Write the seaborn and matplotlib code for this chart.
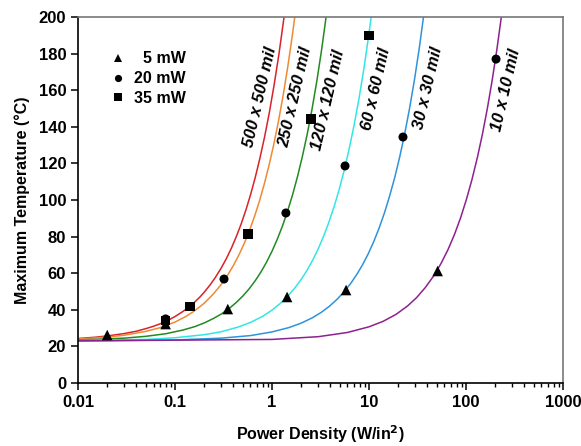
import numpy as np
import pandas as pd
import matplotlib
matplotlib.use("Agg")
import matplotlib.pyplot as plt
import seaborn as sns
from matplotlib.ticker import FixedLocator, FuncFormatter, LogLocator, NullFormatter

# curves (power density W/in^2, max temperature C)
red_x = [0.01, 0.015, 0.02, 0.03, 0.04, 0.05, 0.06, 0.07, 0.08, 0.09, 0.1, 0.12, 0.14, 0.16, 0.18,
         0.2, 0.23, 0.26, 0.3, 0.34, 0.38, 0.43, 0.48, 0.54, 0.6, 0.67, 0.75, 0.84, 0.94, 1.05,
         1.18, 1.32, 1.42]
red_t = [24.3, 25.0, 25.7, 27.0, 28.3, 29.7, 31.0, 32.3, 33.6, 35.0, 36.3, 39.0, 41.6, 44.3, 46.9,
         49.6, 53.6, 57.6, 62.9, 68.2, 73.5, 80.2, 86.8, 94.8, 102.8, 112.1, 122.8, 134.7, 148.0, 162.7,
         179.9, 198.6, 211.9]

orange_x = [0.01, 0.02, 0.03, 0.05, 0.07, 0.1, 0.13, 0.16, 0.2, 0.25, 0.3, 0.35, 0.4, 0.46, 0.52,
            0.59, 0.66, 0.74, 0.83, 0.93, 1.04, 1.16, 1.3, 1.45, 1.62, 1.8]
orange_t = [24.0, 25.1, 26.1, 28.2, 30.2, 33.3, 36.4, 39.5, 43.6, 48.8, 53.9, 59.1, 64.2, 70.4, 76.6,
            83.8, 91.0, 99.2, 108.5, 118.8, 130.1, 142.5, 156.9, 172.4, 189.9, 208.4]

green_x = [0.01, 0.03, 0.05, 0.08, 0.12, 0.16, 0.2, 0.25, 0.3, 0.36, 0.43, 0.5, 0.58, 0.67, 0.77,
           0.88, 1.0, 1.13, 1.28, 1.45, 1.63, 1.83, 2.05, 2.3, 2.58, 2.89, 3.24, 3.63, 3.8]
green_t = [23.5, 24.5, 25.5, 26.9, 28.9, 30.8, 32.8, 35.3, 37.7, 40.6, 44.1, 47.5, 51.4, 55.8, 60.7,
           66.1, 72.0, 78.4, 85.7, 94.1, 102.9, 112.7, 123.5, 135.7, 149.4, 164.6, 181.8, 200.9, 209.2]

cyan_x = [0.01, 0.05, 0.1, 0.2, 0.3, 0.45, 0.6, 0.8, 1.0, 1.2, 1.43, 1.7, 2.0, 2.3, 2.65,
          3.0, 3.4, 3.85, 4.35, 4.9, 5.5, 6.2, 7.0, 7.9, 8.9, 10.0, 11.0]
cyan_t = [23.2, 23.8, 24.7, 26.4, 28.0, 30.6, 33.1, 36.4, 39.8, 43.2, 47.0, 51.6, 56.6, 61.6, 67.5,
          73.4, 80.1, 87.7, 96.1, 105.3, 115.4, 127.2, 140.6, 155.7, 172.5, 191.0, 207.8]

blue_x = [0.01, 0.1, 0.3, 0.6, 1.0, 1.5, 2.0, 2.6, 3.2, 3.9, 4.7, 5.5, 6.5, 7.5, 8.6,
          9.8, 11.2, 12.7, 14.4, 16.3, 18.4, 20.7, 23.3, 26.2, 29.4, 33.0, 37.0, 38.5]
blue_t = [23.0, 23.5, 24.5, 25.9, 27.9, 30.3, 32.7, 35.6, 38.5, 41.9, 45.8, 49.7, 54.5, 59.4, 64.7,
          70.5, 77.3, 84.6, 92.8, 102.1, 112.2, 123.4, 136.0, 150.1, 165.6, 183.1, 202.5, 209.7]

purple_x = [0.01, 1, 3, 6, 10, 14, 19, 25, 31, 38, 46, 55, 65, 76, 88,
            101, 115, 131, 148, 166, 186, 208, 232, 245]
purple_t = [23.0, 23.8, 25.3, 27.6, 30.7, 33.7, 37.5, 42.1, 46.7, 52.1, 58.2, 65.1, 72.7, 81.1, 90.3,
            100.3, 111.0, 123.2, 136.2, 150.0, 165.3, 182.1, 200.5, 210.4]

# measured points
tri_x = [0.02, 0.08, 0.35, 1.43, 5.8, 51]
tri_t = [26.2, 32.2, 40.4, 47, 50.8, 61.2]
circ_x = [0.08, 0.32, 1.39, 5.66, 22.4, 204]
circ_t = [35, 56.8, 92.9, 118.6, 134.4, 177]
sq_x = [0.08, 0.143, 0.566, 2.52, 10]
sq_t = [34, 42, 81.4, 144.3, 190]

sizes = ["500 x 500 mil", "250 x 250 mil", "120 x 120 mil", "60 x 60 mil", "30 x 30 mil", "10 x 10 mil"]
colors = ["#d8232a", "#f08a32", "#238a23", "#33e6e6", "#2f93dc", "#8e2190"]
curves = [(red_x, red_t), (orange_x, orange_t), (green_x, green_t),
          (cyan_x, cyan_t), (blue_x, blue_t), (purple_x, purple_t)]

rows = []
for name, (xs, ts) in zip(sizes, curves):
    for x, t in zip(xs, ts):
        rows.append({"size": name, "P": x, "T": t})
lines = pd.DataFrame(rows)

pts = pd.concat([
    pd.DataFrame({"P": tri_x, "T": tri_t, "power": "5 mW"}),
    pd.DataFrame({"P": circ_x, "T": circ_t, "power": "20 mW"}),
    pd.DataFrame({"P": sq_x, "T": sq_t, "power": "35 mW"}),
])

sns.set_theme(style="white")
plt.rcParams['font.family'] = ['Liberation Sans', 'DejaVu Sans']
for k in ["text.color", "axes.labelcolor", "xtick.color", "ytick.color"]:
    plt.rcParams[k] = "black"

fig = plt.figure(figsize=(5.81, 4.46), dpi=100)
ax = fig.add_axes([0.1343, 0.1413, 0.8347, 0.8206])

sns.lineplot(data=lines, x="P", y="T", hue="size", palette=colors, sort=False,
             estimator=None, lw=1.1, legend=False, ax=ax)
sns.scatterplot(data=pts, x="P", y="T", style="power", size="power",
                markers={"5 mW": "^", "20 mW": "o", "35 mW": "s"},
                sizes={"5 mW": 58, "20 mW": 42, "35 mW": 44},
                color="black", edgecolor="black", linewidth=0, ax=ax, zorder=5)

ax.set_xscale("log")
ax.set_xlim(0.01, 1000)
ax.set_ylim(0, 200)
ax.xaxis.set_major_locator(FixedLocator([0.01, 0.1, 1, 10, 100, 1000]))
ax.xaxis.set_major_formatter(FuncFormatter(lambda v, p: "%g" % v))
ax.xaxis.set_minor_locator(LogLocator(base=10, subs=np.arange(2, 10)))
ax.xaxis.set_minor_formatter(NullFormatter())
ax.set_yticks(range(0, 201, 20))

ax.tick_params(axis="both", which="major", direction="out", length=5, width=1.1,
               labelsize=12, bottom=True, left=True, color="black")
ax.tick_params(axis="x", which="minor", direction="out", length=3, width=1, bottom=True)
for lab in ax.get_xticklabels() + ax.get_yticklabels():
    lab.set_fontweight("bold")

for side in ["left", "bottom"]:
    ax.spines[side].set_color("black")
    ax.spines[side].set_linewidth(1.2)
for side in ["top", "right"]:
    ax.spines[side].set_color("#777777")
    ax.spines[side].set_linewidth(1.2)

ax.set_xlabel("Power Density (W/in$^\\mathbf{2}$)", fontsize=11.5, fontweight="bold", labelpad=10)
ax.set_ylabel("Maximum Temperature (°C)", fontsize=11.5, fontweight="bold", labelpad=6)

label_pos = [(260, 97), (295, 97), (328, 100), (376, 89), (428, 88), (506, 90)]
for name, (px, py) in zip(sizes, label_pos):
    fig.text(px / 581, 1 - py / 446, name, rotation=77, ha="center", va="center",
             fontsize=12, fontweight="bold", fontstyle="italic", color="black")

handles, labels = ax.get_legend_handles_labels()
leg = ax.legend(handles, ["  5 mW", "20 mW", "35 mW"], loc="upper left",
                bbox_to_anchor=(0.02, 0.945), frameon=False, handletextpad=0.0,
                labelspacing=0.3, prop={"weight": "bold", "size": 11.5}, markerscale=0.8)

fig.savefig("out.png", dpi=100)
